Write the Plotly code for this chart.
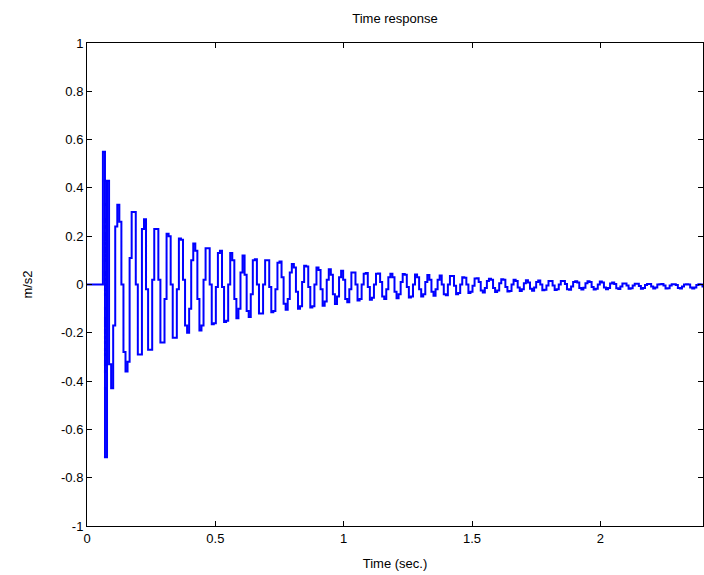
import plotly.graph_objects as go

# ---- data ----
T_START = 0.062      # first non-zero sample (s)
DT = 0.008           # sample interval (s)
pre_value = [0.0]    # signal before the impulse (t = 0)

transient = [0.55, -0.715, 0.43, -0.33, -0.43, -0.17]

early = [0.24, 0.33, 0.26, 0.0, -0.28, -0.36, -0.32, 0.11, 0.30, 0.30, 0.0, -0.29,
         -0.29, 0.23, 0.27, -0.02, -0.27, -0.27, 0.02, 0.23, 0.23, 0.02, -0.24, -0.24,
         -0.06, 0.21]

middle = [
    0.20, 0.00, -0.22, -0.22, -0.02, 0.19,
    0.185, 0.02, -0.17, -0.20, -0.10, 0.10,
    0.17, 0.14, -0.06, -0.19, -0.17, 0.02,
    0.15, 0.15, 0.00, -0.165, -0.16, -0.01,
    0.13, 0.14, -0.01, -0.155, -0.15, 0.00,
    0.13, 0.10, -0.06, -0.14, -0.10, 0.05,
    0.12, 0.04, -0.11, -0.135, -0.04, 0.10,
    0.105, 0.00, -0.12, -0.12, 0.00, 0.10,
    0.10, -0.01, -0.115, -0.11, -0.02, 0.09,
    0.095, 0.03, -0.08, -0.105, -0.06, 0.05,
    0.085, 0.07, -0.03, -0.10, -0.09, 0.01,
    0.078, 0.075, -0.01, -0.095, -0.09, 0.00,
    0.07, 0.06, -0.02, -0.088, -0.07, 0.02,
    0.063, 0.04, -0.04, -0.081, -0.05, 0.03,
    0.057, 0.02, -0.06, -0.074, -0.02, 0.05,
    0.05, 0.00, -0.066, -0.06, 0.00, 0.045,
]

late = [
    0.048, -0.01, -0.063, -0.055, 0.00, 0.045,
    0.046, 0.01, -0.05, -0.06, -0.02, 0.03,
    0.044, 0.03, -0.03, -0.057, -0.04, 0.01,
    0.043, 0.04, -0.01, -0.054, -0.05, 0.00,
    0.041, 0.03, -0.02, -0.05, -0.04, 0.01,
    0.039, 0.02, -0.03, -0.047, -0.02, 0.02,
    0.037, 0.00, -0.04, -0.044, 0.00, 0.035,
    0.035, -0.005, -0.04, -0.035, 0.00, 0.03,
    0.028, 0.00, -0.035, -0.03, -0.005, 0.025,
    0.026, 0.01, -0.025, -0.033, -0.015, 0.015,
    0.024, 0.02, -0.015, -0.031, -0.025, 0.005,
    0.022, 0.02, -0.01, -0.029, -0.027, 0.00,
    0.02, 0.015, -0.012, -0.027, -0.02, 0.005,
    0.018, 0.008, -0.018, -0.026, -0.012, 0.01,
    0.017, 0.00, -0.024, -0.022, -0.004, 0.015,
    0.015, -0.004, -0.023, -0.02, 0.00, 0.014,
    0.014, 0.002, -0.02, -0.022, -0.008, 0.01,
    0.013, 0.008, -0.015, -0.021, -0.013, 0.005,
    0.013, 0.01, -0.01, -0.021, -0.018, 0.00,
    0.012, 0.008, -0.012, -0.02, -0.015, 0.004,
    0.008, 0.002, -0.016, -0.019, -0.008, 0.004,
    0.004, -0.004, -0.018, -0.016, -0.004, 0.003,
    0.003, -0.006, -0.018, -0.014, -0.002, 0.002,
    0.002, -0.008, -0.017, -0.012, 0.000, 0.001,
    0.002, -0.004, -0.017, -0.016, -0.004, 0.001,
    0.001, -0.002, -0.015, -0.017, -0.008, 0.000,
    0.001, 0.000, -0.012, -0.017, -0.012, -0.002,
    0.001, 0.000, -0.008, -0.016, -0.014, -0.004,
]

x_ticks = [0, 0.5, 1, 1.5, 2]
x_tick_labels = ["0", "0.5", "1", "1.5", "2"]
y_ticks = [-1, -0.8, -0.6, -0.4, -0.2, 0, 0.2, 0.4, 0.6, 0.8, 1]
y_tick_labels = ["-1", "-0.8", "-0.6", "-0.4", "-0.2", "0", "0.2", "0.4", "0.6", "0.8", "1"]

# ---- build series ----
samples = transient + early + middle + late
y = pre_value + samples
x = [0.0] + [T_START + DT * i for i in range(len(samples))]

FONT = "Liberation Sans, Arial, Helvetica, sans-serif"
FS = 13

fig = go.Figure()
fig.add_trace(go.Scatter(
    x=x, y=y, mode="lines",
    line=dict(color="#0000ff", width=2.0, shape="hv"),
    hoverinfo="skip",
))

axis_common = dict(
    showline=True, linecolor="black", linewidth=1, mirror="ticks",
    ticks="inside", ticklen=5, tickcolor="black", tickwidth=1,
    showgrid=False, zeroline=False,
    tickfont=dict(family=FONT, size=FS, color="black"),
)

fig.update_layout(
    width=704, height=575,
    margin=dict(l=87, r=1, t=43, b=49),
    plot_bgcolor="white", paper_bgcolor="white",
    showlegend=False,
    font=dict(family=FONT, size=FS, color="black"),
    title=dict(text="Time response", x=0.5, xref="paper", xanchor="center",
               y=1 - 18 / 575, yref="container", yanchor="middle",
               font=dict(family=FONT, size=FS, color="black")),
    xaxis=dict(range=[0, 2.4], tickmode="array", tickvals=x_ticks, ticktext=x_tick_labels,
               title=dict(text="Time (sec.)", standoff=14,
                          font=dict(family=FONT, size=FS, color="black")),
               **axis_common),
    yaxis=dict(range=[-1, 1], tickmode="array", tickvals=y_ticks, ticktext=y_tick_labels,
               title=dict(text="m/s2", standoff=25,
                          font=dict(family=FONT, size=FS, color="black")),
               **axis_common),
)

fig.write_html(
    "out.html",
    config={"displayModeBar": False},
    post_script="document.body.style.margin='0';document.body.style.overflow='hidden';",
)
